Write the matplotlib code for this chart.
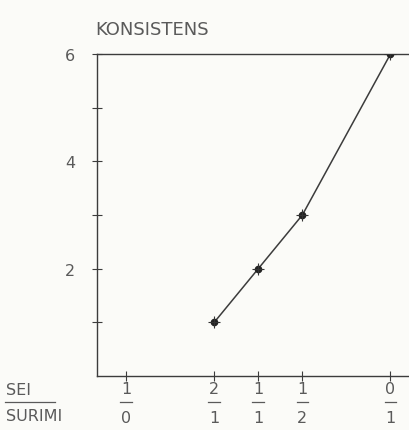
import matplotlib.pyplot as plt
from matplotlib.transforms import blended_transform_factory

# surimi share in the mix (0 = only sei, 1 = only surimi)
surimi_share = [1/3, 1/2, 2/3, 1.0]
konsistens = [1, 2, 3, 6]

tick_pos = [0.0, 1/3, 0.5, 2/3, 1.0]
tick_num = ['1', '2', '1', '1', '0']
tick_den = ['0', '1', '1', '2', '1']

ink = '#3c3c3c'
txt = '#5a5a5a'
bg = '#fbfbf8'

fig = plt.figure(figsize=(4.09, 4.31), dpi=100, facecolor=bg)
ax = fig.add_axes([97/409, 1 - 377/431, 1 - 97/409, (377 - 55)/431], facecolor=bg)

ax.plot(surimi_share, konsistens, color=ink, lw=1.1, marker='o', ms=4.5,
        mfc='#222222', mec='#222222', zorder=3)
ax.plot(surimi_share, konsistens, ls='none', marker='+', ms=8, mew=0.8,
        color='#333333', zorder=3)

ax.set_xlim(-0.11, 1.07)
ax.set_ylim(0, 6)

for s in ['left', 'bottom', 'top']:
    ax.spines[s].set_color(ink)
    ax.spines[s].set_linewidth(1.0)
ax.spines['right'].set_visible(False)

ax.set_yticks([1, 2, 3, 4, 5, 6])
ax.set_yticklabels(['', '2', '', '4', '', '6'])
ax.tick_params(axis='y', direction='inout', length=7, width=0.8, color=ink,
               labelsize=11.5, labelcolor=txt, pad=12)
ax.set_xticks(tick_pos)
ax.set_xticklabels([])
ax.tick_params(axis='x', direction='inout', length=7, width=0.8, color=ink)

tr = blended_transform_factory(ax.transData, fig.transFigure)
for x, n, d in zip(tick_pos, tick_num, tick_den):
    ax.text(x, 1 - 390/431, n, transform=tr, ha='center', va='center',
            fontsize=11.5, color=txt)
    ax.plot([x - 0.022, x + 0.022], [1 - 403/431] * 2, transform=tr,
            color=txt, lw=0.9, clip_on=False)
    ax.text(x, 1 - 419/431, d, transform=tr, ha='center', va='center',
            fontsize=11.5, color=txt)

fig.text(6/409, 1 - 391/431, 'SEI', ha='left', va='center', fontsize=11.5, color=txt)
fig.add_artist(plt.Line2D([5/409, 55/409], [1 - 403/431] * 2, color=txt, lw=0.9))
fig.text(6/409, 1 - 417/431, 'SURIMI', ha='left', va='center', fontsize=11.5, color=txt)

fig.text(95/409, 1 - 30/431, 'KONSISTENS', ha='left', va='center', fontsize=13, color=txt)

fig.savefig('out.png', dpi=100, facecolor=bg)
